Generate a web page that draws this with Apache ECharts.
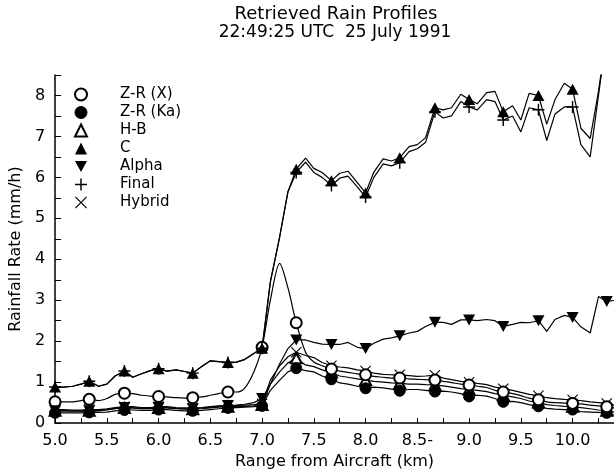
<!DOCTYPE html>
<html>
<head>
<meta charset="utf-8">
<script src="https://cdn.jsdelivr.net/npm/echarts@6/dist/echarts.min.js"></script>
<style>html,body{margin:0;padding:0;background:#fff}#chart{width:614px;height:475px}</style>
</head>
<body>
<div id="chart"></div>
<script>
// ---------- data ----------
const rangeKm = [5.00,5.08,5.17,5.25,5.33,5.42,5.50,5.58,5.67,5.75,5.83,5.92,6.00,6.08,6.17,6.25,6.33,6.42,6.50,6.58,6.67,6.75,6.83,6.92,7.00,7.08,7.17,7.25,7.33,7.42,7.50,7.58,7.67,7.75,7.83,7.92,8.00,8.08,8.17,8.25,8.33,8.42,8.50,8.58,8.67,8.75,8.83,8.92,9.00,9.08,9.17,9.25,9.33,9.42,9.50,9.58,9.67,9.75,9.83,9.92,10.00,10.08,10.17,10.25,10.33,10.42];
const markerKm = [5.00,5.33,5.67,6.00,6.33,6.67,7.00,7.33,7.67,8.00,8.33,8.67,9.00,9.33,9.67,10.00,10.33];

const zrX = [0.52,0.52,0.52,0.55,0.58,0.55,0.6,0.7,0.73,0.72,0.68,0.66,0.65,0.64,0.62,0.61,0.62,0.64,0.68,0.72,0.76,0.76,0.85,1.25,1.85,
  3.0,3.9,3.3,2.45,1.73,1.49,1.4,1.32,
  1.27,1.24,1.2,1.18,1.14,1.12,1.1,1.1,1.08,1.07,1.06,1.05,1.02,0.99,0.95,0.93,0.9,0.87,0.8,0.76,0.72,0.67,0.61,0.57,0.52,0.5,0.49,0.48,0.47,0.44,0.42,0.4,0.36];
const zrKa = [0.25,0.25,0.25,0.25,0.26,0.26,0.27,0.3,0.32,0.32,0.31,0.31,0.33,0.33,0.31,0.3,0.3,0.31,0.33,0.35,0.37,0.38,0.39,0.4,0.42,
  0.8,1.05,1.25,1.34,1.28,1.25,1.15,1.07,
  0.98,0.95,0.9,0.85,0.88,0.86,0.83,0.79,0.82,0.82,0.8,0.77,0.78,0.76,0.72,0.65,0.68,0.66,0.6,0.52,0.53,0.5,0.45,0.41,0.36,0.34,0.33,0.33,0.28,0.27,0.26,0.25,0.18];
const hb = [0.3,0.3,0.29,0.29,0.3,0.3,0.32,0.35,0.37,0.37,0.35,0.35,0.37,0.37,0.35,0.34,0.34,0.35,0.37,0.39,0.4,0.4,0.41,0.42,0.44,
  0.95,1.25,1.47,1.58,1.42,1.38,1.3,1.24,
  1.15,1.12,1.08,1.05,1.02,1.0,0.98,0.97,0.95,0.95,0.94,0.93,0.91,0.88,0.84,0.82,0.8,0.77,0.72,0.68,0.64,0.6,0.54,0.5,0.45,0.43,0.41,0.4,0.38,0.35,0.32,0.3,0.26];
const cRetr = [0.88,0.88,0.9,0.95,1.02,0.9,0.95,1.15,1.27,1.12,1.2,1.28,1.33,1.27,1.3,1.26,1.22,1.39,1.52,1.5,1.48,1.49,1.55,1.7,1.83,
  3.45,4.55,5.65,
  6.2,6.47,6.22,6.12,5.92,6.1,6.15,5.87,5.62,6.13,6.45,6.4,6.48,6.75,6.8,6.97,
  7.7,7.65,7.7,8.03,7.9,7.8,8.07,8.1,7.6,7.75,7.4,8.05,8.0,7.3,7.9,8.3,8.15,7.2,6.95,8.1,9.5,9.5];
const alpha = [0.3,0.3,0.3,0.3,0.3,0.31,0.33,0.36,0.38,0.37,0.36,0.36,0.38,0.38,0.36,0.35,0.35,0.37,0.39,0.41,0.43,0.44,0.46,0.5,0.6,
  0.95,1.45,1.82,
  2.03,2.03,1.97,1.93,1.92,1.92,1.97,1.85,1.82,1.95,2.05,2.08,2.13,2.2,2.24,2.36,2.46,2.46,2.41,2.52,2.52,2.5,2.53,2.5,2.36,2.41,2.46,2.45,2.5,2.24,2.53,2.63,2.58,2.35,2.2,3.09,2.97,3.0];
const finalR = [0.88,0.88,0.9,0.95,1.02,0.9,0.95,1.15,1.27,1.12,1.2,1.28,1.33,1.27,1.3,1.26,1.22,1.39,1.52,1.5,1.48,1.49,1.55,1.7,1.83,
  3.45,4.55,5.65,
  6.12,6.37,6.12,6.0,5.8,5.98,6.03,5.77,5.52,6.0,6.33,6.28,6.36,6.63,6.7,6.86,
  7.6,7.45,7.5,7.85,7.72,7.65,7.9,7.85,7.4,7.5,7.11,7.7,7.65,6.9,7.55,7.72,7.72,6.8,6.5,8.0,9.5,9.5];
const hybrid = [0.33,0.33,0.32,0.32,0.33,0.33,0.35,0.38,0.4,0.4,0.38,0.38,0.4,0.4,0.38,0.37,0.37,0.38,0.4,0.42,0.43,0.43,0.44,0.45,0.47,
  1.05,1.4,1.62,1.73,1.65,1.6,1.48,1.4,
  1.37,1.35,1.3,1.27,1.22,1.19,1.18,1.18,1.16,1.14,1.15,1.17,1.1,1.06,1.02,1.0,0.97,0.94,0.88,0.84,0.8,0.75,0.7,0.67,0.62,0.6,0.58,0.57,0.55,0.52,0.5,0.48,0.43];

const seriesNames = ['Z-R (X)','Z-R (Ka)','H-B','C','Alpha','Final','Hybrid'];
const xTickValues = [5.0,5.5,6.0,6.5,7.0,7.5,8.0,8.5,9.0,9.5,10.0];
const xTickLabels = ['5.0','5.5','6.0','6.5','7.0','7.5','8.0','8.5-','9.0','9.5','10.0'];
const yTickValues = [0,1,2,3,4,5,6,7,8];
const yTickLabels = ['0','1','2','3','4','5','6','7','8'];

// ---------- styling ----------
const FONT = 'DejaVu Sans';
const PLUS = 'path://M4.4,0 H5.6 V4.4 H10 V5.6 H5.6 V10 H4.4 V5.6 H0 V4.4 H4.4 Z';
const CROSS = 'path://M0,0.7 L0.7,0 L5,4.3 L9.3,0 L10,0.7 L5.7,5 L10,9.3 L9.3,10 L5,5.7 L0.7,10 L0,9.3 L4.3,5 Z';
const TRIDOWN = 'path://M0,0 L10,0 L5,9 Z';

function mk(name, values, symbol, size, extra) {
  const data = rangeKm.map((x, i) => ({
    value: [x, values[i]],
    symbolSize: markerKm.indexOf(x) >= 0 ? size : 0
  }));
  return Object.assign({
    name: name,
    type: 'line',
    data: data,
    symbol: symbol,
    showSymbol: true,
    showAllSymbol: true,
    animation: false,
    lineStyle: { color: '#000', width: 1.2 },
    itemStyle: { color: '#000', borderColor: '#000', borderWidth: 1 },
    emphasis: { disabled: true },
    clip: true
  }, extra || {});
}

const series = [
  mk('Hybrid', hybrid, CROSS, 11, { itemStyle: { color: '#000', borderWidth: 0 } }),
  mk('H-B', hb, 'emptyTriangle', [11, 10]),
  mk('Z-R (Ka)', zrKa, 'circle', 11),
  mk('Z-R (X)', zrX, 'emptyCircle', 11, { smooth: 0.3 }),
  mk('Alpha', alpha, TRIDOWN, [12, 11], { itemStyle: { color: '#000', borderWidth: 0 } }),
  mk('Final', finalR, PLUS, 12, { itemStyle: { color: '#000', borderWidth: 0 } }),
  mk('C', cRetr, 'triangle', [12, 11], { itemStyle: { color: '#000', borderWidth: 0 } })
];

const icons = {
  'Z-R (X)': 'emptyCircle', 'Z-R (Ka)': 'circle', 'H-B': 'emptyTriangle', 'C': 'triangle',
  'Alpha': TRIDOWN, 'Final': PLUS, 'Hybrid': CROSS
};

const chart = echarts.init(document.getElementById('chart'), null, { renderer: 'canvas' });
chart.setOption({
  backgroundColor: '#fff',
  animation: false,
  textStyle: { fontFamily: FONT, color: '#000' },
  grid: { left: 50, top: 75, width: 567, height: 349, containLabel: false },
  legend: {
    orient: 'vertical', left: 74, top: 87, padding: 0,
    itemWidth: 12, itemHeight: 12, itemGap: 3, selectedMode: false,
    itemStyle: { borderWidth: 1 },
    textStyle: { fontFamily: FONT, fontSize: 15, color: '#000', lineHeight: 13, padding: [0, 0, 0, 28] },
    data: seriesNames.map(n => ({ name: n, icon: icons[n] }))
  },
  xAxis: {
    type: 'value', min: 5, max: 10.4, interval: 0.5,
    axisLine: { lineStyle: { color: '#000', width: 1.5 } },
    axisTick: { inside: true, length: 5, lineStyle: { color: '#000', width: 1 } },
    minorTick: { show: true, splitNumber: 2, length: 5, lineStyle: { color: '#000', width: 1 } },
    splitLine: { show: false },
    axisLabel: {
      color: '#000', fontFamily: FONT, fontSize: 16, margin: 10, showMaxLabel: false,
      formatter: v => { const i = xTickValues.findIndex(t => Math.abs(t - v) < 1e-6); return i >= 0 ? xTickLabels[i] : ''; }
    },
    name: 'Range from Aircraft (km)', nameLocation: 'middle', nameGap: 28,
    nameTextStyle: { color: '#000', fontFamily: FONT, fontSize: 16 }
  },
  yAxis: {
    type: 'value', min: 0, max: 8.5, interval: 1,
    axisLine: { show: true, lineStyle: { color: '#000', width: 1.5 } },
    axisTick: { show: true, inside: true, length: 6, lineStyle: { color: '#000', width: 1 } },
    minorTick: { show: true, splitNumber: 2, length: 6, lineStyle: { color: '#000', width: 1 } },
    splitLine: { show: false },
    axisLabel: {
      color: '#000', fontFamily: FONT, fontSize: 16, margin: 10, showMaxLabel: false,
      formatter: v => { const i = yTickValues.findIndex(t => Math.abs(t - v) < 1e-6); return i >= 0 ? yTickLabels[i] : ''; }
    },
    name: 'Rainfall Rate (mm/h)', nameLocation: 'middle', nameGap: 26,
    nameTextStyle: { color: '#000', fontFamily: FONT, fontSize: 16 }
  },
  graphic: [
    { type: 'text', x: 336, y: 14, style: { text: 'Retrieved Rain Profiles', font: '18px "DejaVu Sans"', fill: '#000', align: 'center', verticalAlign: 'middle' } },
    { type: 'text', x: 335, y: 33, style: { text: '22:49:25 UTC  25 July 1991', font: '17px "DejaVu Sans"', fill: '#000', align: 'center', verticalAlign: 'middle' } }
  ],
  series: series
});
</script>
</body>
</html>
